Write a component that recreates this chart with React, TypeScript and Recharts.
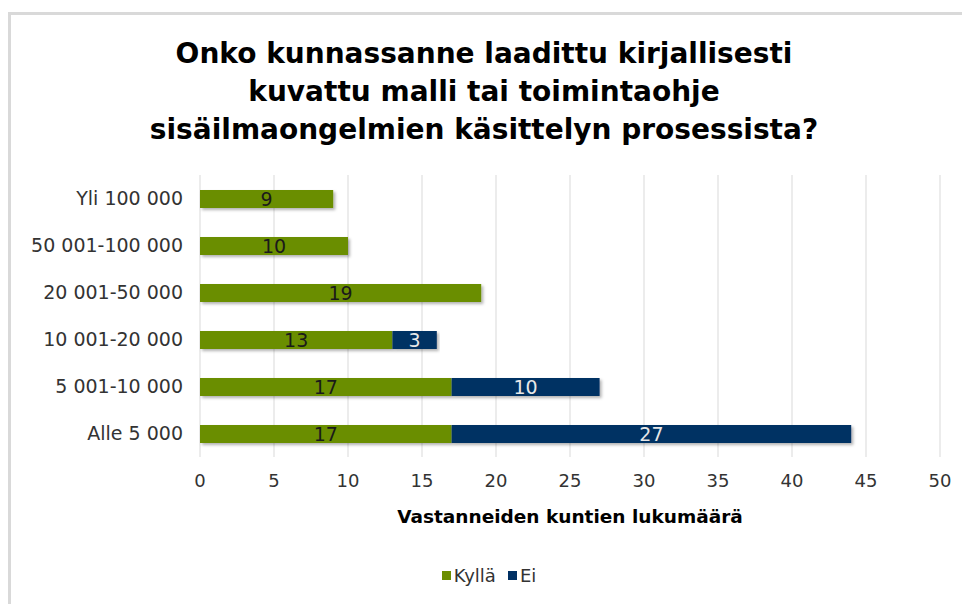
import React from "react";
import {
  Bar, BarChart, CartesianGrid, Label, LabelList, Legend, XAxis, YAxis,
} from "recharts";

const categories = [
  "Yli 100 000",
  "50 001-100 000",
  "20 001-50 000",
  "10 001-20 000",
  "5 001-10 000",
  "Alle 5 000",
];
const kylla = [9, 10, 19, 13, 17, 17];
const ei = [null, null, null, 3, 10, 27];
const xTicks = [0, 5, 10, 15, 20, 25, 30, 35, 40, 45, 50];

const GREEN = "#6B8E00";
const BLUE = "#003063";
const FONT = "'DejaVu Sans', Verdana, sans-serif";

const data = categories.map((c, i) => ({ name: c, Kyllä: kylla[i], Ei: ei[i] }));

const hideEmpty = (v: unknown) => (v ? String(v) : "");

function LegendBox() {
  const items = [
    { label: "Kyllä", color: GREEN },
    { label: "Ei", color: BLUE },
  ];
  return (
    <div style={{ display: "flex", justifyContent: "center", gap: 12, fontFamily: FONT, fontSize: 18, color: "#333" }}>
      {items.map((it) => (
        <span key={it.label} style={{ display: "flex", alignItems: "center" }}>
          <span style={{ width: 9, height: 9, background: it.color, display: "inline-block", marginRight: 3 }} />
          {it.label}
        </span>
      ))}
    </div>
  );
}

export default function App() {
  return (
    <div style={{ position: "relative", width: 962, height: 596, overflow: "hidden", background: "#fff" }}>
      <div style={{ position: "absolute", left: 0, top: 4, width: 1000, height: 700, borderTop: "3px solid #d9d9d9", borderLeft: "3px solid #d9d9d9" }} />
      <div style={{ position: "absolute", left: 0, top: 27, width: 952, textAlign: "center", fontFamily: FONT, fontWeight: "bold", fontSize: 28, lineHeight: "38px", color: "#000" }}>
        Onko kunnassanne laadittu kirjallisesti<br />
        kuvattu malli tai toimintaohje<br />
        sisäilmaongelmien käsittelyn prosessista?
      </div>
      <div style={{ position: "absolute", left: 0, top: 0 }}>
        <BarChart
          width={962}
          height={596}
          data={data}
          layout="vertical"
          margin={{ top: 167, right: 30, bottom: 67, left: 12 }}
        >
          <defs>
            <filter id="barShadow" x="-5%" y="-20%" width="110%" height="160%">
              <feDropShadow dx="2" dy="2" stdDeviation="1.5" floodColor="#000" floodOpacity="0.3" />
            </filter>
          </defs>
          <CartesianGrid horizontal={false} stroke="#d9d9d9" />
          <XAxis
            type="number"
            domain={[0, 50]}
            ticks={xTicks}
            height={80}
            axisLine={false}
            tickLine={false}
            tickMargin={11}
            tick={{ fill: "#333", fontSize: 18, fontFamily: FONT }}
          >
            <Label
              value="Vastanneiden kuntien lukumäärä"
              position="insideBottom"
              offset={14}
              style={{ fill: "#000", fontSize: 18.5, fontWeight: "bold", fontFamily: FONT }}
            />
          </XAxis>
          <YAxis
            type="category"
            dataKey="name"
            width={180}
            axisLine={false}
            tickLine={false}
            tickMargin={11}
            tick={{ fill: "#333", fontSize: 19, fontFamily: FONT }}
          />
          <Legend
            verticalAlign="middle"
            align="center"
            layout="horizontal"
            wrapperStyle={{ top: 557, left: 0, width: 962 }}
            content={() => <LegendBox />}
          />
          <Bar dataKey="Kyllä" stackId="s" fill={GREEN} barSize={18} filter="url(#barShadow)" isAnimationActive={false}>
            <LabelList dataKey="Kyllä" position="center" formatter={hideEmpty} style={{ fill: "#1a1a1a", fontSize: 19, fontFamily: FONT }} />
          </Bar>
          <Bar dataKey="Ei" stackId="s" fill={BLUE} barSize={18} filter="url(#barShadow)" isAnimationActive={false}>
            <LabelList dataKey="Ei" position="center" formatter={hideEmpty} style={{ fill: "#e8e8e8", fontSize: 19, fontFamily: FONT }} />
          </Bar>
        </BarChart>
      </div>
    </div>
  );
}
